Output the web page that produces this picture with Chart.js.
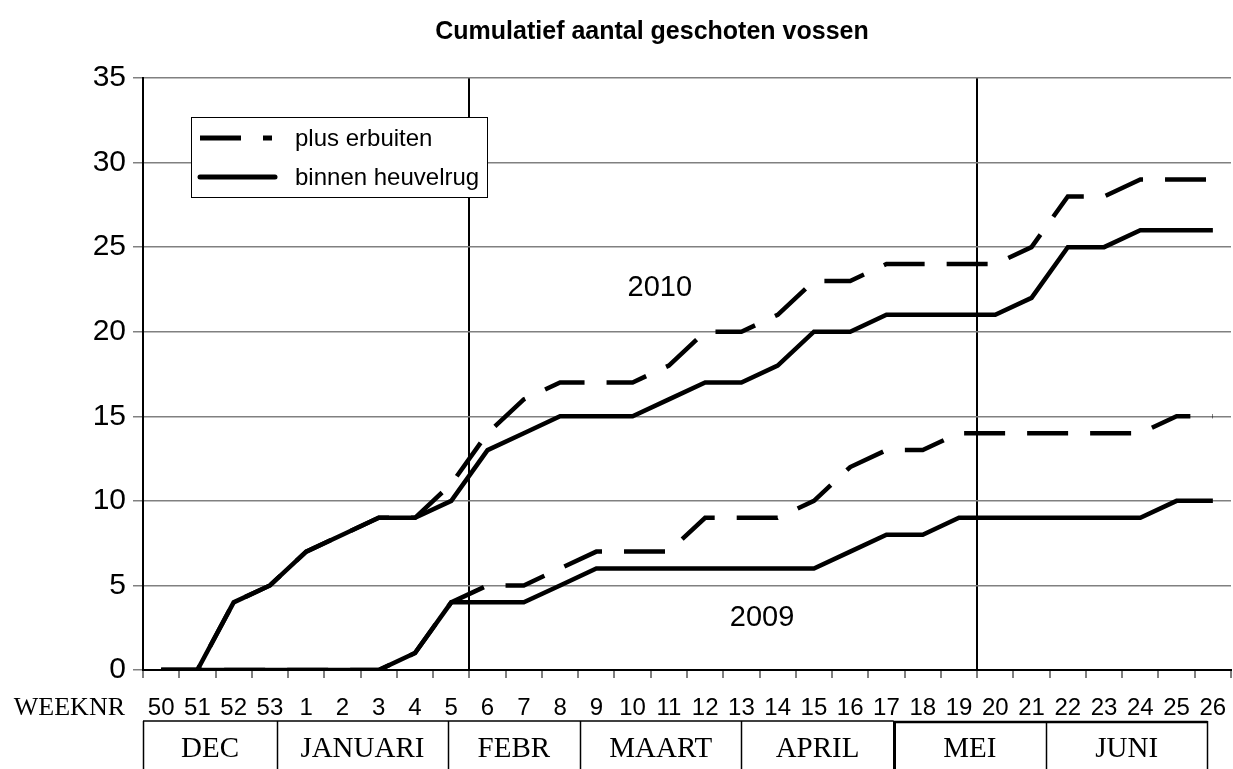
<!DOCTYPE html>
<html lang="nl">
<head>
<meta charset="utf-8">
<title>Cumulatief aantal geschoten vossen</title>
<script src="https://cdn.jsdelivr.net/npm/chart.js@4.4.1/dist/chart.umd.min.js"></script>
<style>
    html, body { margin: 0; padding: 0; background: #fff; }
    #chartBox { width: 1233px; height: 769px; }
</style>
</head>
<body>
<div id="chartBox"><canvas id="myChart" width="1233" height="769"></canvas></div>
<script>
// Weeknummers (x-as)
const weeks = ['50', '51', '52', '53', '1', '2', '3', '4', '5', '6', '7', '8', '9', '10', '11', '12', '13',
    '14', '15', '16', '17', '18', '19', '20', '21', '22', '23', '24', '25', '26'];

// Cumulatief aantal per week
const plus2010 = [0, 0, 4, 5, 7, 8, 9, 9, 11, 14, 16, 17, 17, 17, 18, 20, 20, 21, 23, 23, 24, 24, 24, 24, 25, 28, 28, 29, 29, 29];
const binnen2010 = [0, 0, 4, 5, 7, 8, 9, 9, 10, 13, 14, 15, 15, 15, 16, 17, 17, 18, 20, 20, 21, 21, 21, 21, 22, 25, 25, 26, 26, 26];
const plus2009 = [0, 0, 0, 0, 0, 0, 0, 1, 4, 5, 5, 6, 7, 7, 7, 9, 9, 9, 10, 12, 13, 13, 14, 14, 14, 14, 14, 14, 15, 15];
const binnen2009 = [0, 0, 0, 0, 0, 0, 0, 1, 4, 4, 4, 5, 6, 6, 6, 6, 6, 6, 6, 7, 8, 8, 9, 9, 9, 9, 9, 9, 10, 10];

// Maanden onder de as (grenzen in weekindex)
const monthNames = ['DEC', 'JANUARI', 'FEBR', 'MAART', 'APRIL', 'MEI', 'JUNI'];
const monthEdges = [-0.5, 3.2, 7.9, 11.55, 16.0, 20.2, 24.4, 28.85];

// Jaartallen in de grafiek (weekindex, waarde)
const yearLabels = [
    { text: '2010', x: 13.75, y: 22.6 },
    { text: '2009', x: 16.57, y: 3.1 }
];

// Verticale scheidingslijnen (gridline index)
const dividers = [9, 23, 30];

const dashPattern = [41, 22];

// Eigen tekenwerk: titel, legenda, jaartallen, maandvakken
const extras = {
    id: 'extras',
    afterDraw(chart) {
        const ctx = chart.ctx;
        const x = chart.scales.x;
        const y = chart.scales.y;
        const area = chart.chartArea;
        ctx.save();
        ctx.fillStyle = '#000';
        ctx.strokeStyle = '#000';

        // Titel
        ctx.font = 'bold 25px "Liberation Sans", Arial, sans-serif';
        ctx.textAlign = 'center';
        ctx.textBaseline = 'middle';
        ctx.fillText('Cumulatief aantal geschoten vossen', 652, 32);

        // Jaartallen
        ctx.font = '29px "Liberation Sans", Arial, sans-serif';
        yearLabels.forEach(l => {
            ctx.fillText(l.text, x.getPixelForValue(l.x), y.getPixelForValue(l.y));
        });

        // Legenda
        const lx = area.left + 48, ly = area.top + 39;
        ctx.fillStyle = '#fff';
        ctx.fillRect(lx, ly, 296, 80);
        ctx.lineWidth = 1;
        ctx.strokeRect(lx + 0.5, ly + 0.5, 296, 80);
        ctx.fillStyle = '#000';
        ctx.font = '24px "Liberation Sans", Arial, sans-serif';
        ctx.textAlign = 'left';
        const items = [chart.data.datasets[0], chart.data.datasets[1]];
        items.forEach((ds, i) => {
            const yy = ly + 21 + i * 39;
            ctx.beginPath();
            ctx.lineWidth = 5;
            ctx.setLineDash(ds.borderDash || []);
            ctx.lineCap = ds.borderDash ? 'butt' : 'round';
            ctx.moveTo(lx + 9, yy);
            ctx.lineTo(lx + (ds.borderDash ? 81 : 84), yy);
            ctx.stroke();
            ctx.setLineDash([]);
            ctx.fillText(ds.label, lx + 104, yy + 1);
        });

        // WEEKNR
        ctx.font = '26px "Liberation Serif", "Times New Roman", serif';
        ctx.textAlign = 'right';
        ctx.fillText('WEEKNR', 125, 708);

        // Maandvakken
        const top = 721;
        ctx.lineCap = 'butt';
        ctx.lineWidth = 1.5;
        ctx.beginPath();
        ctx.moveTo(x.getPixelForValue(monthEdges[0]), top);
        ctx.lineTo(x.getPixelForValue(monthEdges[5]), top);
        ctx.stroke();
        ctx.lineWidth = 2.5;
        ctx.beginPath();
        ctx.moveTo(x.getPixelForValue(monthEdges[5]), top + 1);
        ctx.lineTo(x.getPixelForValue(monthEdges[7]), top + 1);
        ctx.stroke();
        monthEdges.forEach((e, i) => {
            ctx.lineWidth = i === 5 ? 3 : 1.5;
            const px = Math.round(x.getPixelForValue(e)) + 0.5;
            ctx.beginPath();
            ctx.moveTo(px, top);
            ctx.lineTo(px, chart.height);
            ctx.stroke();
        });
        ctx.font = '29px "Liberation Serif", "Times New Roman", serif';
        ctx.textAlign = 'center';
        monthNames.forEach((m, i) => {
            const cx = (x.getPixelForValue(monthEdges[i]) + x.getPixelForValue(monthEdges[i + 1])) / 2;
            ctx.fillText(m, cx, 749);
        });
        ctx.restore();
    }
};

const ctx = document.getElementById('myChart').getContext('2d');
const myChart = new Chart(ctx, {
    type: 'line',
    data: {
        labels: weeks,
        datasets: [
            { label: 'plus erbuiten', data: plus2010, borderDash: dashPattern },
            { label: 'binnen heuvelrug', data: binnen2010 },
            { label: 'plus erbuiten 2009', data: plus2009, borderDash: dashPattern },
            { label: 'binnen heuvelrug 2009', data: binnen2009 }
        ].map(ds => Object.assign({
            borderColor: '#000',
            backgroundColor: '#000',
            borderWidth: 4.5,
            pointRadius: 0,
            tension: 0,
            fill: false
        }, ds))
    },
    options: {
        responsive: false,
        animation: false,
        layout: { padding: { top: 78, right: 2, left: 0, bottom: 0 } },
        plugins: {
            legend: { display: false },
            title: { display: false },
            tooltip: { enabled: false }
        },
        scales: {
            x: {
                offset: true,
                grid: {
                    offset: true,
                    color: c => dividers.includes(c.index) ? '#000' : 'rgba(0,0,0,0)',
                    lineWidth: 2,
                    tickColor: '#000',
                    tickWidth: 1,
                    tickLength: 8
                },
                border: { color: '#000', width: 2 },
                ticks: {
                    color: '#000',
                    font: { family: '"Liberation Sans", Arial, sans-serif', size: 24 },
                    padding: 16,
                    maxRotation: 0,
                    autoSkip: false
                },
                afterFit: s => {
                    s.height = 99;
                    s.paddingLeft = 0;
                    s.paddingRight = 0;
                }
            },
            y: {
                min: 0,
                max: 35,
                grid: {
                    color: '#808080',
                    lineWidth: 1.5,
                    tickColor: '#808080',
                    tickLength: 10
                },
                border: { color: '#000', width: 2 },
                ticks: {
                    stepSize: 5,
                    color: '#000',
                    font: { family: '"Liberation Sans", Arial, sans-serif', size: 30 },
                    padding: 7
                },
                afterFit: s => { s.width = 143; }
            }
        }
    },
    plugins: [extras]
});
</script>
</body>
</html>
